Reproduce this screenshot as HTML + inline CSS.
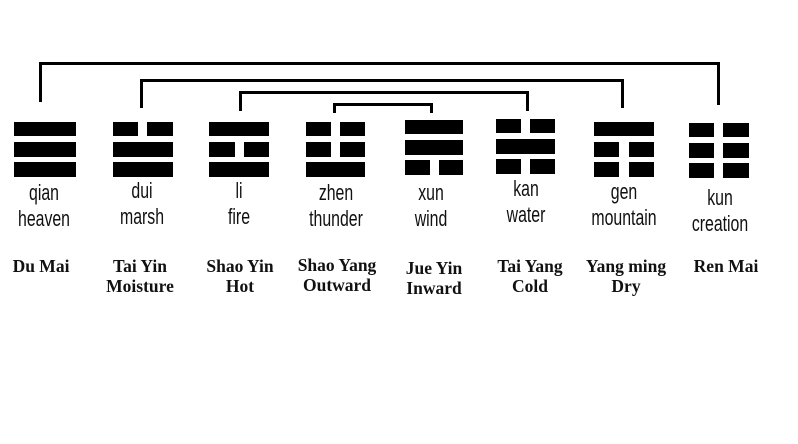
<!DOCTYPE html>
<html><head><meta charset="utf-8"><style>
body{margin:0;width:798px;height:444px;background:#fff;position:relative;overflow:hidden}
.b{position:absolute;background:#000}
.t{position:absolute;font-family:"Liberation Sans",sans-serif;font-size:22px;color:#111;white-space:nowrap;transform:translateX(-50%) scaleX(0.72);line-height:26px;text-align:center}
.s{position:absolute;font-family:"Liberation Serif",serif;font-weight:bold;font-size:17.5px;color:#111;white-space:nowrap;transform:translateX(-50%);line-height:20px;text-align:center}
</style></head><body>
<!-- connectors -->
<div class="b" style="left:39px;top:62px;width:681px;height:3px"></div>
<div class="b" style="left:39px;top:62px;width:3px;height:40px"></div>
<div class="b" style="left:717px;top:62px;width:3px;height:43px"></div>
<div class="b" style="left:140px;top:79px;width:484px;height:3px"></div>
<div class="b" style="left:140px;top:79px;width:3px;height:29px"></div>
<div class="b" style="left:621px;top:79px;width:3px;height:29px"></div>
<div class="b" style="left:239px;top:91px;width:290px;height:3px"></div>
<div class="b" style="left:239px;top:91px;width:3px;height:20px"></div>
<div class="b" style="left:526px;top:91px;width:3px;height:20px"></div>
<div class="b" style="left:333px;top:103px;width:100px;height:3px"></div>
<div class="b" style="left:333px;top:103px;width:3px;height:10px"></div>
<div class="b" style="left:430px;top:103px;width:3px;height:10px"></div>

<!-- qian -->
<div class="b" style="left:14px;top:122px;width:62px;height:14px"></div>
<div class="b" style="left:14px;top:142px;width:62px;height:15px"></div>
<div class="b" style="left:14px;top:162px;width:62px;height:15px"></div>
<!-- dui -->
<div class="b" style="left:113px;top:122px;width:25px;height:14px"></div>
<div class="b" style="left:147px;top:122px;width:26px;height:14px"></div>
<div class="b" style="left:113px;top:142px;width:60px;height:15px"></div>
<div class="b" style="left:113px;top:162px;width:60px;height:15px"></div>
<!-- li -->
<div class="b" style="left:209px;top:122px;width:60px;height:14px"></div>
<div class="b" style="left:209px;top:142px;width:26px;height:15px"></div>
<div class="b" style="left:244px;top:142px;width:25px;height:15px"></div>
<div class="b" style="left:209px;top:162px;width:60px;height:15px"></div>
<!-- zhen -->
<div class="b" style="left:306px;top:122px;width:25px;height:14px"></div>
<div class="b" style="left:340px;top:122px;width:25px;height:14px"></div>
<div class="b" style="left:306px;top:142px;width:25px;height:15px"></div>
<div class="b" style="left:340px;top:142px;width:25px;height:15px"></div>
<div class="b" style="left:306px;top:162px;width:59px;height:15px"></div>
<!-- xun -->
<div class="b" style="left:405px;top:120px;width:58px;height:14px"></div>
<div class="b" style="left:405px;top:140px;width:58px;height:15px"></div>
<div class="b" style="left:405px;top:160px;width:25px;height:15px"></div>
<div class="b" style="left:439px;top:160px;width:24px;height:15px"></div>
<!-- kan -->
<div class="b" style="left:496px;top:119px;width:25px;height:14px"></div>
<div class="b" style="left:530px;top:119px;width:25px;height:14px"></div>
<div class="b" style="left:496px;top:139px;width:59px;height:15px"></div>
<div class="b" style="left:496px;top:159px;width:25px;height:15px"></div>
<div class="b" style="left:530px;top:159px;width:25px;height:15px"></div>
<!-- gen -->
<div class="b" style="left:594px;top:122px;width:60px;height:14px"></div>
<div class="b" style="left:594px;top:142px;width:25px;height:15px"></div>
<div class="b" style="left:629px;top:142px;width:25px;height:15px"></div>
<div class="b" style="left:594px;top:162px;width:25px;height:15px"></div>
<div class="b" style="left:629px;top:162px;width:25px;height:15px"></div>
<!-- kun -->
<div class="b" style="left:689px;top:123px;width:25px;height:14px"></div>
<div class="b" style="left:723px;top:123px;width:26px;height:14px"></div>
<div class="b" style="left:689px;top:143px;width:25px;height:15px"></div>
<div class="b" style="left:723px;top:143px;width:26px;height:15px"></div>
<div class="b" style="left:689px;top:163px;width:25px;height:15px"></div>
<div class="b" style="left:723px;top:163px;width:26px;height:15px"></div>

<!-- names -->
<div class="t" style="left:44px;top:180px">qian<br>heaven</div>
<div class="t" style="left:142px;top:178px">dui<br>marsh</div>
<div class="t" style="left:239px;top:178px">li<br>fire</div>
<div class="t" style="left:336px;top:180px">zhen<br>thunder</div>
<div class="t" style="left:431px;top:180px">xun<br>wind</div>
<div class="t" style="left:526px;top:176px">kan<br>water</div>
<div class="t" style="left:624px;top:179px">gen<br>mountain</div>
<div class="t" style="left:720px;top:185px">kun<br>creation</div>

<!-- meridians -->
<div class="s" style="left:41px;top:256px">Du Mai</div>
<div class="s" style="left:140px;top:256px">Tai Yin<br>Moisture</div>
<div class="s" style="left:240px;top:256px">Shao Yin<br>Hot</div>
<div class="s" style="left:337px;top:255px">Shao Yang<br>Outward</div>
<div class="s" style="left:434px;top:258px">Jue Yin<br>Inward</div>
<div class="s" style="left:530px;top:256px">Tai Yang<br>Cold</div>
<div class="s" style="left:626px;top:256px">Yang ming<br>Dry</div>
<div class="s" style="left:726px;top:256px">Ren Mai</div>
</body></html>
